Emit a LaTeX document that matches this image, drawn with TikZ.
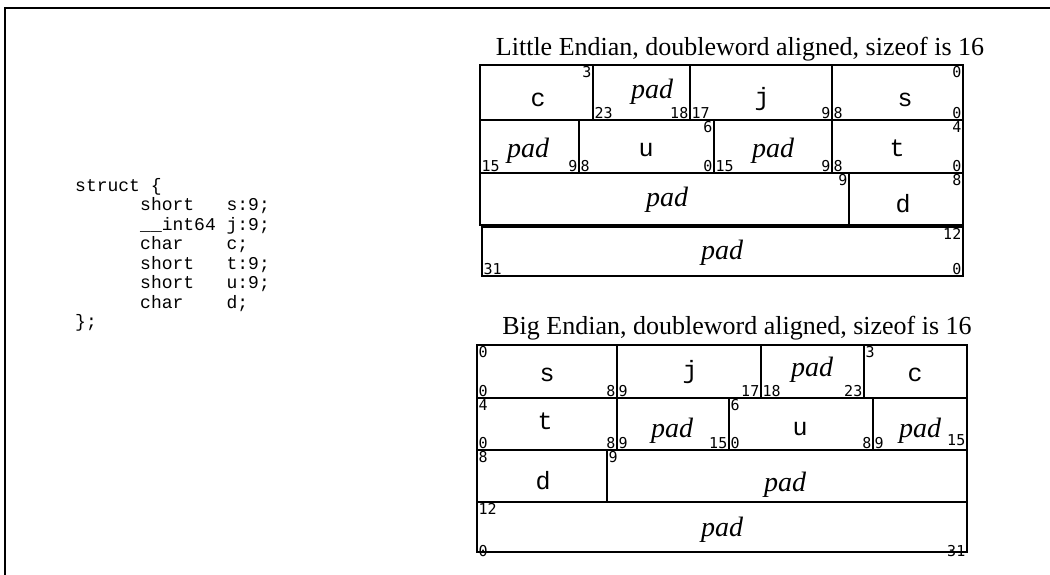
\documentclass[tikz,border=0pt]{standalone}
\usepackage{fontspec}
\setmainfont{Liberation Serif}
\newfontfamily\monof{Liberation Mono}
\newfontfamily\numf{DejaVu Sans Mono}
\newcommand\cel[5]{\node[cellbox, minimum width={#4-#2}, minimum height={#5-#3}] (#1) at ({(#2+#4)/2},{(#3+#5)/2}) {};}
\newcommand\lab[4]{\node[num, anchor=#2] (#1) at (#3) {#4};}
\begin{document}
\begin{tikzpicture}[x=1pt,y=-1pt,
 cellbox/.style={draw, line width=1.8pt, inner sep=0pt, outer sep=0pt},
 num/.style={font=\numf\fontsize{15}{15}\selectfont, inner sep=1.5pt},
 fld/.style={font=\monof\fontsize{25}{25}\selectfont, inner sep=0pt, anchor=base},
 padt/.style={font=\itshape\fontsize{28}{28}\selectfont, inner sep=0pt, anchor=base},
 ttl/.style={font=\fontsize{26}{26}\selectfont, inner sep=0pt, anchor=base},
 code/.style={font=\monof\fontsize{18}{18}\selectfont, inner sep=0pt, anchor=base west}]
\useasboundingbox (0,0) rectangle (1050,575);
\draw[line width=2pt] (5,575) -- (5,8) -- (1050,8);
% code
\node[code] (k1) at (75,191) {struct \{};
\node[code] (k2) at (140,210.5) {short~~~s:9;};
\node[code] (k3) at (140,230) {\_\_int64~j:9;};
\node[code] (k4) at (140,249.5) {char~~~~c;};
\node[code] (k5) at (140,269) {short~~~t:9;};
\node[code] (k6) at (140,288.5) {short~~~u:9;};
\node[code] (k7) at (140,308) {char~~~~d;};
\node[code] (k8) at (75,327.5) {\};};
% Little Endian
\node[ttl] (ltitle) at (740,56) {Little Endian, doubleword aligned, sizeof is 16};
\cel{l11}{480}{65}{593}{120}
\cel{l12}{593}{65}{690}{120}
\cel{l13}{690}{65}{832}{120}
\cel{l14}{832}{65}{963}{120}
\cel{l21}{480}{120}{579}{173}
\cel{l22}{579}{120}{714}{173}
\cel{l23}{714}{120}{832}{173}
\cel{l24}{832}{120}{963}{173}
\cel{l31}{480}{173}{849}{225}
\cel{l32}{849}{173}{963}{225}
\cel{l41}{482}{227}{963}{276}
\node[fld] (lc) at (538,107) {c};
\node[padt] (lp1) at (652,99) {pad};
\node[fld] (lj) at (762,106) {j};
\node[fld] (ls) at (905,107) {s};
\node[padt] (lp2) at (528,158) {pad};
\node[fld] (lu) at (646,157) {u};
\node[padt] (lp3) at (773,158) {pad};
\node[fld] (lt) at (897,157) {t};
\node[padt] (lp4) at (667,207) {pad};
\node[fld] (ld) at (903,212) {d};
\node[padt] (lp5) at (722,259) {pad};
\lab{l11a}{north east}{l11.north east}{3}
\lab{l12a}{south west}{l12.south west}{23}
\lab{l12b}{south east}{l12.south east}{18}
\lab{l13a}{south west}{l13.south west}{17}
\lab{l13b}{south east}{l13.south east}{9}
\lab{l14a}{north east}{l14.north east}{0}
\lab{l14b}{south west}{l14.south west}{8}
\lab{l14c}{south east}{l14.south east}{0}
\lab{l21a}{south west}{l21.south west}{15}
\lab{l21b}{south east}{l21.south east}{9}
\lab{l22a}{south west}{l22.south west}{8}
\lab{l22b}{north east}{l22.north east}{6}
\lab{l22c}{south east}{l22.south east}{0}
\lab{l23a}{south west}{l23.south west}{15}
\lab{l23b}{south east}{l23.south east}{9}
\lab{l24a}{north east}{l24.north east}{4}
\lab{l24b}{south west}{l24.south west}{8}
\lab{l24c}{south east}{l24.south east}{0}
\lab{l31a}{north east}{l31.north east}{9}
\lab{l32a}{north east}{l32.north east}{8}
\lab{l41a}{north east}{l41.north east}{12}
\lab{l41b}{south east}{l41.south east}{0}
\lab{l41c}{south west}{l41.south west}{31}
% Big Endian
\node[ttl] (btitle) at (737,334) {Big Endian, doubleword aligned, sizeof is 16};
\cel{b11}{477}{345}{617}{398}
\cel{b12}{617}{345}{761}{398}
\cel{b13}{761}{345}{864}{398}
\cel{b14}{864}{345}{967}{398}
\cel{b21}{477}{398}{617}{450}
\cel{b22}{617}{398}{729}{450}
\cel{b23}{729}{398}{873}{450}
\cel{b24}{873}{398}{967}{450}
\cel{b31}{477}{450}{607}{502}
\cel{b32}{607}{450}{967}{502}
\cel{b41}{477}{502}{967}{552}
\node[fld] (bs) at (547,381) {s};
\node[fld] (bj) at (690,378) {j};
\node[padt] (bp1) at (812,376) {pad};
\node[fld] (bc) at (915,381) {c};
\node[fld] (bt) at (545,429) {t};
\node[padt] (bp2) at (672,437) {pad};
\node[fld] (bu) at (800,435) {u};
\node[padt] (bp3) at (920,437) {pad};
\node[fld] (bd) at (543,489) {d};
\node[padt] (bp4) at (785,491) {pad};
\node[padt] (bp5) at (722,536) {pad};
\lab{b11a}{north west}{b11.north west}{0}
\lab{b11b}{south west}{b11.south west}{0}
\lab{b11c}{south east}{b11.south east}{8}
\lab{b12a}{south west}{b12.south west}{9}
\lab{b12b}{south east}{b12.south east}{17}
\lab{b13a}{south west}{b13.south west}{18}
\lab{b13b}{south east}{b13.south east}{23}
\lab{b14a}{north west}{b14.north west}{3}
\lab{b21a}{north west}{b21.north west}{4}
\lab{b21b}{south west}{b21.south west}{0}
\lab{b21c}{south east}{b21.south east}{8}
\lab{b22a}{south west}{b22.south west}{9}
\lab{b22b}{south east}{b22.south east}{15}
\lab{b23a}{north west}{b23.north west}{6}
\lab{b23b}{south west}{b23.south west}{0}
\lab{b23c}{south east}{b23.south east}{8}
\lab{b24a}{south west}{b24.south west}{9}
\lab{b24b}{south east}{[yshift=3pt]b24.south east}{15}
\lab{b31a}{north west}{b31.north west}{8}
\lab{b32a}{north west}{b32.north west}{9}
\lab{b41a}{north west}{b41.north west}{12}
\lab{b41b}{south west}{[yshift=-6pt]b41.south west}{0}
\lab{b41c}{south east}{[yshift=-6pt]b41.south east}{31}
\end{tikzpicture}
\end{document}
